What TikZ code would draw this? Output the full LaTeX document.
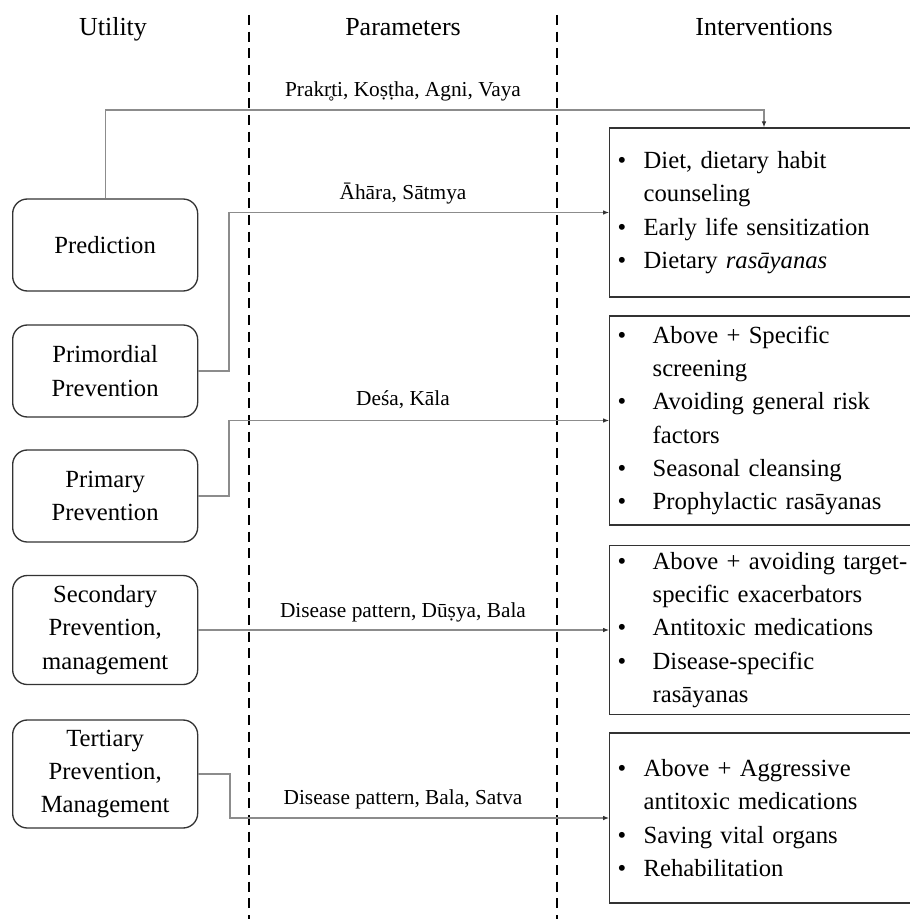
\documentclass[tikz,border=0pt]{standalone}
\usepackage{fontspec}
\setmainfont{Liberation Serif}
\usetikzlibrary{arrows.meta}
\newlength\pxu
\setlength\pxu{0.75pt}
\hyphenpenalty=10000
\definecolor{linkgray}{HTML}{8C8C8C}
\definecolor{boxline}{HTML}{333333}
% bullet with hanging indent, #1 = indent in px
\newcommand{\bitem}[1]{\par\hangindent=#1\pxu\hangafter=1\noindent\makebox[#1\pxu][l]{\hspace{8\pxu}\textbullet}\ignorespaces}
\newcommand{\ilist}[1]{\parbox{302\pxu}{\raggedright #1}}
\tikzset{
  head/.style={anchor=base, font=\fontsize{19.5}{24}\selectfont},
  param/.style={anchor=base, font=\fontsize{16}{20}\selectfont},
  utilbox/.style={draw=boxline, line width=1pt, rounded corners=11pt, anchor=west,
                  minimum width=185\pxu, align=center, inner sep=0pt,
                  font=\fontsize{18.5}{25}\selectfont},
  ivbox/.style={draw=boxline, line width=1pt, anchor=west, text width=330\pxu,
                inner xsep=0pt, inner ysep=0pt, align=left,
                font=\fontsize{18.5}{25}\selectfont},
  link/.style={draw=linkgray, line width=0.8pt},
  linkarrow/.style={link, -{Latex[length=4.5pt,width=3.5pt,color=black!80]}},
  divider/.style={line width=1.1pt, dash pattern=on 7.5pt off 5pt},
}

\begin{document}
\begin{tikzpicture}[x=0.75pt, y=-0.75pt]
  \useasboundingbox (0,0) rectangle (909,919);

  % column heads and dividers
  \node[head] (hutil) at (113,36) {Utility};
  \node[head] (hpar) at (403,36) {Parameters};
  \node[head] (hint) at (764,36) {Interventions};
  \draw[divider] (249,15) -- (249,919);
  \draw[divider] (557,15) -- (557,919);

  % utility boxes
  \node[utilbox, minimum height=92\pxu] (pred) at (12,245) {Prediction};
  \node[utilbox, minimum height=92\pxu] (prim) at (12,371) {Primordial\\Prevention};
  \node[utilbox, minimum height=92\pxu] (primy) at (12,496) {Primary\\Prevention};
  \node[utilbox, minimum height=109\pxu] (sec) at (12,630) {Secondary\\Prevention,\\management};
  \node[utilbox, minimum height=108\pxu] (ter) at (12,774) {Tertiary\\Prevention,\\Management};

  % intervention boxes
  \node[ivbox, minimum height=169\pxu] (i1) at (609,212.5) {\ilist{%
    \bitem{34}Diet, dietary habit counseling
    \bitem{34}Early life sensitization
    \bitem{34}Dietary \textit{rasāyanas}}};
  \node[ivbox, minimum height=209\pxu] (i2) at (609,420.5) {\ilist{%
    \bitem{43}Above + Specific screening
    \bitem{43}Avoiding general risk factors
    \bitem{43}Seasonal cleansing
    \bitem{43}Prophylactic rasāyanas}};
  \node[ivbox, minimum height=169\pxu] (i3) at (609,630) {\ilist{%
    \bitem{43}Above + avoiding target-\newline specific exacerbators
    \bitem{43}Antitoxic medications
    \bitem{43}Disease-specific rasāyanas}};
  \node[ivbox, minimum height=170\pxu] (i4) at (609,818) {\ilist{%
    \bitem{34}Above + Aggressive antitoxic medications
    \bitem{34}Saving vital organs
    \bitem{34}Rehabilitation}};

  % parameter labels
  \node[param] (p1) at (403,97) {Prakr̥ti, Koṣṭha, Agni, Vaya};
  \node[param] (p2) at (403,200) {Āhāra, Sātmya};
  \node[param] (p3) at (403,405) {Deśa, Kāla};
  \node[param] (p4) at (403,617) {Disease pattern, Dūṣya, Bala};
  \node[param] (p5) at (403,804) {Disease pattern, Bala, Satva};

  % connectors
  \coordinate (k1) at (764,110);
  \coordinate (k2) at (229,212.5);
  \coordinate (k3) at (229,420.5);
  \coordinate (k5) at (230,818);
  \draw[linkarrow] (pred.north) |- (k1) -- (k1 |- i1.north);
  \draw[linkarrow] (prim.east) -| (k2) -- (i1.west);
  \draw[linkarrow] (primy.east) -| (k3) -- (i2.west);
  \draw[linkarrow] (sec.east) -- (i3.west);
  \draw[linkarrow] (ter.east) -| (k5) -- (i4.west);
\end{tikzpicture}
\end{document}
